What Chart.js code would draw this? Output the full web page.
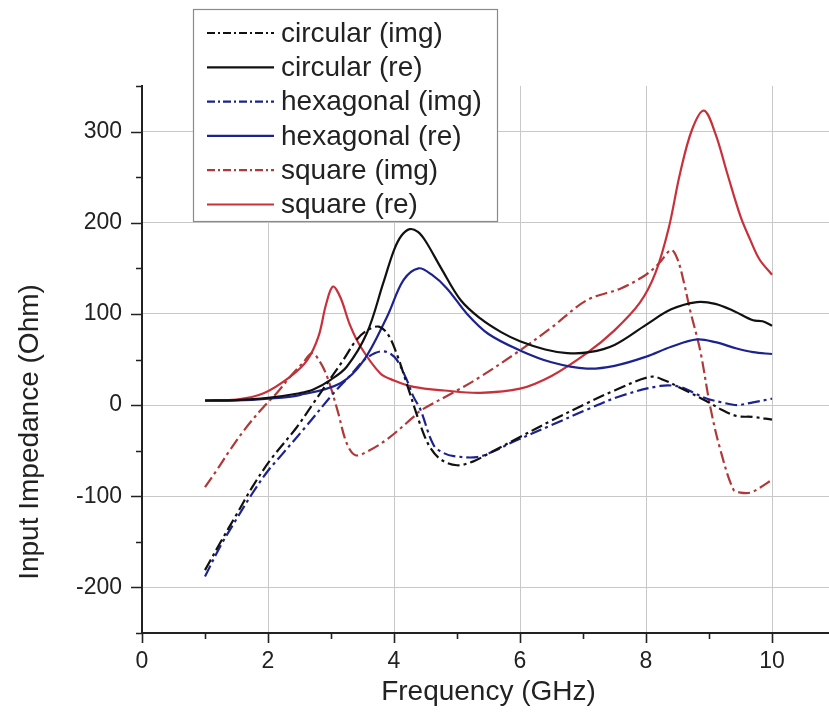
<!DOCTYPE html>
<html>
<head>
<meta charset="utf-8">
<script src="https://cdn.jsdelivr.net/npm/chart.js@4.4.1/dist/chart.umd.min.js"></script>
<style>
  html, body { margin: 0; padding: 0; background: #fff; overflow: hidden; }
  #wrap { position: relative; width: 840px; height: 722px; }
</style>
</head>
<body>
<div id="wrap"><canvas id="chart"></canvas></div>
<script>
// axis ticks
const xTicks = [0, 2, 4, 6, 8, 10];
const xMinorTicks = [0, 1, 2, 3, 4, 5, 6, 7, 8, 9, 10, 11];
const yTicks = [-200, -100, 0, 100, 200, 300];
const yMinorTicks = [-250, -200, -150, -100, -50, 0, 50, 100, 150, 200, 250, 300, 350];

// [frequency GHz, impedance Ohm]
const circularImg = [[1,-181],[1.25,-150],[1.5,-120],[1.75,-90],[2.04,-60],[2.46,-24],[2.7,0],[2.94,24],[3.2,50],[3.41,72],[3.6,83],[3.76,86],[3.9,78],[4.05,55],[4.2,24],[4.42,-22],[4.57,-46],[4.75,-60],[5.0,-66],[5.25,-62],[5.48,-54],[6.0,-35],[6.5,-17],[7.06,2],[7.5,16],[8.07,31],[8.3,27],[8.54,19],[8.97,4],[9.2,-5],[9.44,-12],[9.7,-13],[10,-16]];
const circularRe = [[1,5],[1.5,5.5],[2,8],[2.5,13],[2.72,17],[3,28],[3.25,42],[3.57,79],[3.83,134],[4.0,170],[4.12,186],[4.25,193],[4.38,190],[4.5,180],[4.75,150],[5.06,115],[5.37,95],[5.7,80],[6.0,70],[6.4,61],[6.75,57],[7.1,58],[7.5,66],[8.0,88],[8.4,105],[8.81,113],[9.1,111],[9.4,103],[9.7,93],[9.85,92],[10,87]];
const hexagonalImg = [[1,-188],[1.25,-154],[1.5,-125],[1.75,-97],[2.0,-72],[2.2,-56],[2.62,-22],[3.04,13],[3.3,32],[3.52,49],[3.7,57],[3.83,59],[3.95,56],[4.05,49],[4.2,28],[4.31,9],[4.42,-5],[4.63,-44],[4.8,-53],[4.95,-56],[5.32,-57],[5.6,-50],[5.9,-40],[6.5,-22],[7.06,-5],[7.6,10],[8.23,21],[8.54,20],[8.8,12],[8.97,7],[9.2,3],[9.44,0],[9.7,3],[10,7]];
const hexagonalRe = [[1,5],[1.5,5],[2,7],[2.5,11],[3.15,24],[3.52,49],[3.89,97],[4.15,137],[4.39,150],[4.6,143],[4.84,128],[5.16,100],[5.5,78],[6.0,60],[6.5,47],[7.06,40],[7.5,43],[8.0,53],[8.4,64],[8.81,72],[9.1,69],[9.44,62],[9.7,58],[10,56]];
const squareImg = [[1,-90],[1.2,-70],[1.4,-49],[1.65,-25],[1.93,-2],[2.15,14],[2.35,31],[2.55,46],[2.7,57],[2.82,48],[2.94,31],[3.1,-5],[3.25,-42],[3.39,-55],[3.6,-50],[3.9,-37],[4.31,-13],[4.42,-6],[5.0,16],[5.37,31],[6.0,60],[6.5,85],[7.06,115],[7.6,128],[8.0,143],[8.2,155],[8.4,170],[8.5,160],[8.6,135],[8.7,104],[8.86,60],[9.02,-2],[9.18,-49],[9.39,-93],[9.5,-96],[9.66,-96],[9.8,-91],[10,-82]];
const squareRe = [[1,5],[1.5,6],[1.93,13],[2.35,31],[2.62,49],[2.8,75],[2.92,110],[3.03,130],[3.15,118],[3.3,88],[3.47,64],[3.78,35],[4.0,27],[4.31,20],[4.8,16],[5.37,13.5],[6.0,18],[6.5,32],[7.06,57],[7.5,82],[7.9,112],[8.15,145],[8.36,194],[8.54,254],[8.73,302],[8.92,323],[9.1,298],[9.29,254],[9.5,207],[9.65,182],[9.8,160],[10,143]];

const seriesNames = ['circular (img)', 'circular (re)', 'hexagonal (img)', 'hexagonal (re)', 'square (img)', 'square (re)'];
const seriesData = [circularImg, circularRe, hexagonalImg, hexagonalRe, squareImg, squareRe];
const seriesColors = ['#111111', '#111111', '#1d238e', '#1d238e', '#b03838', '#c8303a'];
const dashDot = [12, 4, 3, 4];

const FONT = "'Liberation Sans', Arial, sans-serif";

const extras = {
    id: 'extras',
    afterDraw(chart) {
        const { ctx, chartArea: a, scales: { x, y } } = chart;
        ctx.save();
        // tick marks, outward
        ctx.strokeStyle = '#222';
        ctx.lineWidth = 1.6;
        ctx.beginPath();
        yMinorTicks.forEach(v => {
            const p = Math.round(y.getPixelForValue(v)) + 0.5;
            const len = v % 100 === 0 ? 11 : 6;
            ctx.moveTo(a.left - len, p);
            ctx.lineTo(a.left, p);
        });
        xMinorTicks.forEach(v => {
            const p = Math.round(x.getPixelForValue(v)) + 0.5;
            const len = v % 2 === 0 ? 10 : 6;
            ctx.moveTo(p, a.bottom);
            ctx.lineTo(p, a.bottom + len);
        });
        ctx.stroke();

        // axis titles
        ctx.fillStyle = '#222';
        ctx.font = `28px ${FONT}`;
        ctx.textAlign = 'center';
        ctx.textBaseline = 'middle';
        ctx.fillText('Frequency (GHz)', (a.left + a.right) / 2, 692);
        ctx.save();
        ctx.translate(30, 432);
        ctx.rotate(-Math.PI / 2);
        ctx.fillText('Input Impedance (Ohm)', 0, 0);
        ctx.restore();

        // legend box
        const bx = 193, by = 9, bw = 304, bh = 212;
        ctx.fillStyle = '#fff';
        ctx.fillRect(bx, by, bw, bh);
        ctx.strokeStyle = '#8a8a8a';
        ctx.lineWidth = 1.2;
        ctx.strokeRect(bx + 0.5, by + 0.5, bw, bh);
        ctx.font = `28px ${FONT}`;
        ctx.textAlign = 'left';
        chart.data.datasets.forEach((ds, i) => {
            const ry = 33 + i * 34.3;
            ctx.strokeStyle = ds.borderColor;
            ctx.lineWidth = 2.2;
            ctx.setLineDash(ds.borderDash.length ? [8, 3, 2, 3] : []);
            ctx.beginPath();
            ctx.moveTo(207, ry);
            ctx.lineTo(274, ry);
            ctx.stroke();
            ctx.setLineDash([]);
            ctx.fillStyle = '#222';
            ctx.fillText(ds.label, 281, ry + 1);
        });
        ctx.restore();
    }
};

new Chart(document.getElementById('chart'), {
    type: 'line',
    data: {
        datasets: seriesNames.map((name, i) => ({
            label: name,
            data: seriesData[i].map(p => ({ x: p[0], y: p[1] })),
            borderColor: seriesColors[i],
            borderWidth: 2.2,
            borderDash: i % 2 === 0 ? dashDot : [],
            pointRadius: 0,
            tension: 0.35,
            fill: false
        }))
    },
    options: {
        responsive: true,
        maintainAspectRatio: false,
        animation: false,
        layout: { padding: { top: 86, right: 5, left: 0, bottom: 0 } },
        plugins: { legend: { display: false }, tooltip: { enabled: false } },
        scales: {
            x: {
                type: 'linear',
                min: 0,
                max: 11,
                afterBuildTicks: s => { s.ticks = xTicks.map(v => ({ value: v })); },
                afterFit: s => { s.height = 89; },
                grid: { color: '#c8c8c8', lineWidth: 1, drawTicks: false },
                border: { color: '#222', width: 2 },
                ticks: { color: '#222', font: { family: FONT, size: 23 }, padding: 15, maxRotation: 0 }
            },
            y: {
                min: -250,
                max: 350,
                afterBuildTicks: s => { s.ticks = yTicks.map(v => ({ value: v })); },
                afterFit: s => { s.width = 142; },
                grid: { color: '#c8c8c8', lineWidth: 1, drawTicks: false },
                border: { color: '#222', width: 2 },
                ticks: { color: '#222', font: { family: FONT, size: 23 }, padding: 20 }
            }
        }
    },
    plugins: [extras]
});
</script>
</body>
</html>
